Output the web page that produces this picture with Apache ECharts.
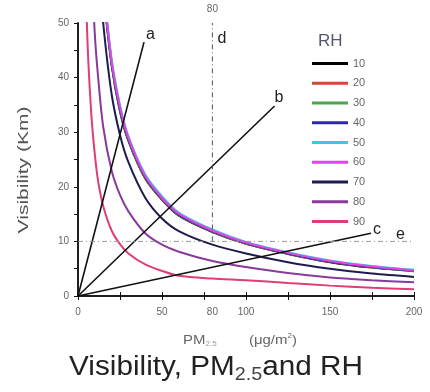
<!DOCTYPE html>
<html><head><meta charset="utf-8">
<script src="https://cdn.jsdelivr.net/npm/echarts@6/dist/echarts.min.js"></script>
<style>html,body{margin:0;padding:0;background:#fff}#c{width:430px;height:392px}</style>
</head><body><div id="c"></div>
<script>
// RH categories and colors
const rhNames = ['10','20','30','40','50','60','70','80','90'];
const rhColors = ['#000000','#d0483c','#4ca64c','#2a2aa8','#3fc6e2','#e046e6','#1c1c4e','#8a3a9a','#e03c78'];
// PM2.5 sample positions
const pmX = [4,5,6,8,10,12,15,20,25,30,40,50,60,80,100,125,150,175,200];
// Visibility (km) read per RH curve
const vis10 = [null,null,null,null,null,null,56.0,42.3,33.8,28.4,21.5,17.6,14.7,11.7,9.55,7.7,6.2,5.2,4.55];
const vis20 = [null,null,null,null,null,null,56.3,42.5,34.0,28.6,21.6,17.7,14.8,11.8,9.6,7.75,6.25,5.25,4.6];
const vis30 = [null,null,null,null,null,null,56.5,42.7,34.2,28.7,21.7,17.8,14.85,11.85,9.65,7.8,6.3,5.3,4.6];
const vis40 = [null,null,null,null,null,null,56.7,42.8,34.3,28.8,21.8,17.9,14.9,11.9,9.7,7.8,6.3,5.3,4.65];
const vis50 = [null,null,null,null,null,null,57.5,43.5,35.0,29.3,22.3,18.3,15.3,12.2,9.9,8.0,6.5,5.5,4.8];
const vis60 = [null,null,null,null,null,null,57.0,43.1,34.6,29.0,22.0,18.0,15.1,12.0,9.8,7.9,6.4,5.4,4.72];
const vis70 = [null,null,null,null,null,62,50,37,29.5,24.5,18,14.2,11.9,9.4,7.8,6.2,5.0,4.1,3.5];
const vis80 = [null,null,80,62,48,40,31,23,18.5,15.5,11.5,9.4,8.1,6.4,5.3,4.2,3.4,2.9,2.5];
const vis90 = [66,53,44,33,26,21,16.5,12,9.5,7.8,5.8,4.6,3.7,3.2,2.9,2.4,1.9,1.5,1.25];
const visAll = [vis10,vis20,vis30,vis40,vis50,vis60,vis70,vis80,vis90];
// reference lines a, b, c (end points) and dash-dot guides d, e
const lineA = [[0,0],[39.3,46.5]];
const lineB = [[0,0],[117,34.8]];
const lineC = [[0,0],[174.4,11.5]];
const lineD = [[80,10],[80,50]];
const lineE = [[0,10],[200,10]];
const xTicks = [0,50,100,150,200];

const FF = 'Liberation Sans, Arial, sans-serif';
const chart = echarts.init(document.getElementById('c'), null, {renderer:'canvas'});
const lblFont = {color:'#666', fontSize:10, fontFamily:FF};

const series = [];
rhNames.forEach((n,i)=>{
  const d = [];
  pmX.forEach((x,j)=>{ if (visAll[i][j]!=null) d.push([x, visAll[i][j]]); });
  series.push({name:n, type:'line', data:d, smooth:0.3, showSymbol:false,
    lineStyle:{width:2, color:rhColors[i]}, itemStyle:{color:rhColors[i]}, clip:true, z:3});
});
function refLine(data, label, offset, style){
  return {type:'line', data:data, symbol:'none', z:4, silent:true,
    lineStyle:style||{width:1.6,color:'#111'},
    endLabel:{show:true, formatter:label, offset:offset, color:'#222', fontSize:16, fontFamily:FF, distance:2}};
}
series.push(refLine(lineA,'a',[0,-8]));
series.push(refLine(lineB,'b',[-2,-8]));
series.push(refLine(lineC,'c',[0,-4]));
series.push(refLine(lineD,'d',[3,16],{width:1,color:'#555',type:[5,3,1,3]}));
series.push(refLine(lineE,'e',[-20,-7],{width:1,color:'#999',type:[5,3,1,3]}));

chart.setOption({
  animation:false,
  backgroundColor:'#fff',
  grid:{left:78, right:16, top:23, bottom:96, containLabel:false},
  legend:{data:rhNames, orient:'vertical', left:307, top:52, icon:'rect', itemWidth:36, itemHeight:3, itemGap:6.75,
    textStyle:{color:'#666', fontSize:11, fontFamily:FF, lineHeight:13}, selectedMode:false},
  xAxis:[
    {type:'value', min:0, max:200, interval:25, position:'bottom',
      axisLine:{lineStyle:{color:'#111',width:1.5}}, axisTick:{inside:true,length:4,lineStyle:{color:'#111'}},
      axisLabel:Object.assign({margin:11, formatter:v=>xTicks.includes(v)?String(v):''},lblFont), splitLine:{show:false}},
    {type:'value', min:0, max:200, interval:25, position:'top',
      axisLine:{lineStyle:{color:'#111',width:1.5}}, axisTick:{inside:true,length:4,lineStyle:{color:'#111'}},
      axisLabel:{show:false}, splitLine:{show:false}},
    {type:'value', min:0, max:200, position:'bottom', axisLine:{show:false}, axisTick:{show:false}, splitLine:{show:false},
      axisLabel:Object.assign({customValues:[80], margin:11, formatter:v=>'80'},lblFont)},
    {type:'value', min:0, max:200, position:'top', axisLine:{show:false}, axisTick:{show:false}, splitLine:{show:false},
      axisLabel:Object.assign({customValues:[80], margin:9, formatter:v=>'80'},lblFont)}
  ],
  yAxis:[
    {type:'value', min:0, max:50, interval:10, position:'left',
      axisLine:{show:true,lineStyle:{color:'#111',width:1.5}}, axisTick:{show:true,inside:false,length:4,lineStyle:{color:'#111'}},
      axisLabel:Object.assign({margin:9},lblFont), splitLine:{show:false}},
    {type:'value', min:0, max:50, interval:5, position:'right',
      axisLine:{show:true,lineStyle:{color:'#111',width:1.5}}, axisTick:{show:true,inside:true,length:4,lineStyle:{color:'#111'}},
      axisLabel:{show:false}, splitLine:{show:false}}
  ],
  series: series,
  graphic:[
    {type:'text', x:318, y:33, style:{text:'RH', fontSize:17, fill:'#557', fontFamily:FF}},
    {type:'text', x:16, y:170, rotation:Math.PI/2, scaleX:1.4, style:{text:'Visibility (Km)', fontSize:15, fill:'#555', fontFamily:FF, align:'center', verticalAlign:'top'}},
    {type:'text', x:240, y:340, scaleX:1.15, style:{align:'center', verticalAlign:'middle',
      rich:{a:{fontSize:13,fill:'#666',fontFamily:FF},s:{fontSize:7,fill:'#999',fontFamily:FF,padding:[9,0,0,0]},g:{width:28},p:{fontSize:7,fill:'#666',fontFamily:FF,padding:[0,0,7,0]}},
      text:'{a|PM}{s|2.5}{g|}{a|(μg/m}{p|2}{a|)}'}},
    {type:'text', x:216, y:368, scaleX:1.1, style:{align:'center', verticalAlign:'middle',
      rich:{a:{fontSize:27,fill:'#222',fontFamily:FF},s:{fontSize:18,fill:'#444',fontFamily:FF,padding:[14,0,0,0]}},
      text:'{a|Visibility, PM}{s|2.5}{a|and RH}'}}
  ]
});
</script></body></html>
